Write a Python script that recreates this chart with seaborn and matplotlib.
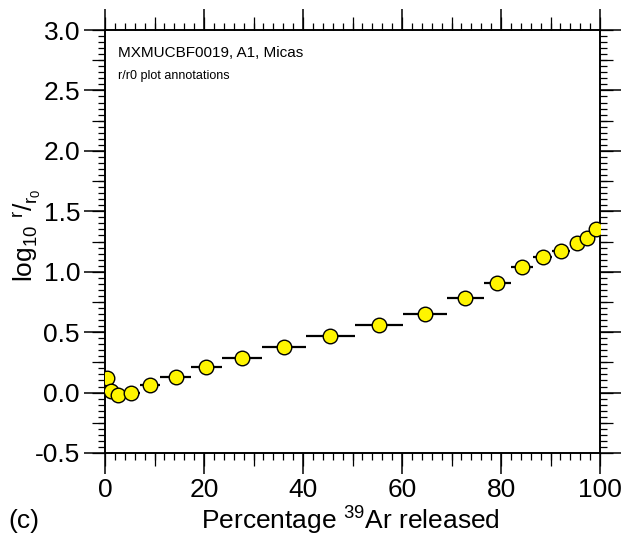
import numpy as np
import pandas as pd
import matplotlib
matplotlib.use("Agg")
import matplotlib.pyplot as plt
import seaborn as sns
from matplotlib.ticker import MultipleLocator, FuncFormatter

# Cumulative 39Ar release boundaries (%) for each heating step
cum_edges = [0.0, 0.8, 1.6, 3.6, 7.0, 11.2, 17.4, 23.6, 31.8, 40.6, 50.5,
             60.2, 69.1, 76.5, 82.0, 86.5, 90.3, 94.0, 96.6, 98.2, 100.0]
# log10(r/r0) for each step
log_r_r0 = [0.12, 0.01, -0.02, 0.00, 0.06, 0.13, 0.21, 0.29, 0.38, 0.47,
            0.56, 0.65, 0.78, 0.91, 1.04, 1.12, 1.17, 1.24, 1.28, 1.35]

sample_label = "MXMUCBF0019, A1, Micas"
note_label = "r/r0 plot annotations"
x_label = r"Percentage $\mathregular{^{39}}$Ar released"
y_label = r"log$\mathregular{_{10}}$ $\mathregular{^{r}/_{r_0}}$"
panel_label = "(c)"

edges = np.array(cum_edges)
df = pd.DataFrame({
    "lo": edges[:-1],
    "hi": edges[1:],
    "mid": (edges[:-1] + edges[1:]) / 2,
    "val": log_r_r0,
})

sns.set_theme(style="ticks")
plt.rcParams["font.family"] = ["Liberation Sans", "DejaVu Sans"]
plt.rcParams["mathtext.fontset"] = "custom"
plt.rcParams["mathtext.rm"] = "Liberation Sans"
plt.rcParams["mathtext.it"] = "Liberation Sans"
plt.rcParams["text.color"] = "black"
plt.rcParams["axes.labelcolor"] = "black"
plt.rcParams["xtick.color"] = "black"
plt.rcParams["ytick.color"] = "black"

fig = plt.figure(figsize=(6.23, 5.41), dpi=100)
ax = fig.add_axes([105 / 623, 1 - 453 / 541, 495 / 623, 423 / 541])

# step widths as horizontal bars
ax.hlines(df["val"], df["lo"], df["hi"], color="black", lw=1.6, zorder=2)
sns.scatterplot(data=df, x="mid", y="val", ax=ax, s=110, color="#FFF500",
                edgecolor="black", linewidth=1.0, zorder=3, legend=False)

ax.set_xlim(0, 100)
ax.set_ylim(-0.5, 3.0)

LW = 1.2
for sp in ax.spines.values():
    sp.set_visible(True)
    sp.set_linewidth(LW)
    sp.set_color("black")

# long ticks + labels
ax.xaxis.set_major_locator(MultipleLocator(20))
ax.yaxis.set_major_locator(MultipleLocator(0.5))
ax.xaxis.set_minor_locator(MultipleLocator(2))
ax.yaxis.set_minor_locator(MultipleLocator(0.05))
ax.yaxis.set_major_formatter(FuncFormatter(lambda v, p: f"{v:.1f}"))
ax.xaxis.set_major_formatter(FuncFormatter(lambda v, p: f"{v:.0f}"))
ax.tick_params(which="major", direction="out", length=15, width=1.1,
               labelsize=19, pad=3, top=True, right=True,
               colors="black", labelcolor="black")
ax.tick_params(which="minor", direction="out", length=5, width=0.9,
               top=True, right=True, color="black")

# medium ticks at half-steps
for loc in ("bottom", "top"):
    sec = ax.secondary_xaxis(loc)
    sec.xaxis.set_major_locator(MultipleLocator(10))
    sec.tick_params(which="major", direction="out", length=9.5, width=0.9,
                    labelbottom=False, labeltop=False, color="black")
    sec.spines[loc].set_linewidth(LW)
    sec.spines[loc].set_color("black")
for loc in ("left", "right"):
    sec = ax.secondary_yaxis(loc)
    sec.yaxis.set_major_locator(MultipleLocator(0.25))
    sec.tick_params(which="major", direction="out", length=9.5, width=0.9,
                    labelleft=False, labelright=False, color="black")
    sec.spines[loc].set_linewidth(LW)
    sec.spines[loc].set_color("black")

ax.set_xlabel("")
ax.set_ylabel("")
fig.text(350 / 623, 1 - 521 / 541, x_label, ha="center", va="center",
         fontsize=19, color="black")
fig.text(27 / 623, 1 - 235 / 541, y_label, ha="center", va="center",
         rotation=90, fontsize=19, color="black")
fig.text(8 / 623, 1 - 521 / 541, panel_label, ha="left", va="center",
         fontsize=19, color="black")

ax.text(0.027, 0.962, sample_label, transform=ax.transAxes, ha="left",
        va="top", fontsize=11, color="black")
ax.text(0.027, 0.905, note_label, transform=ax.transAxes, ha="left",
        va="top", fontsize=9, color="black")

fig.savefig("out.png", dpi=100)
